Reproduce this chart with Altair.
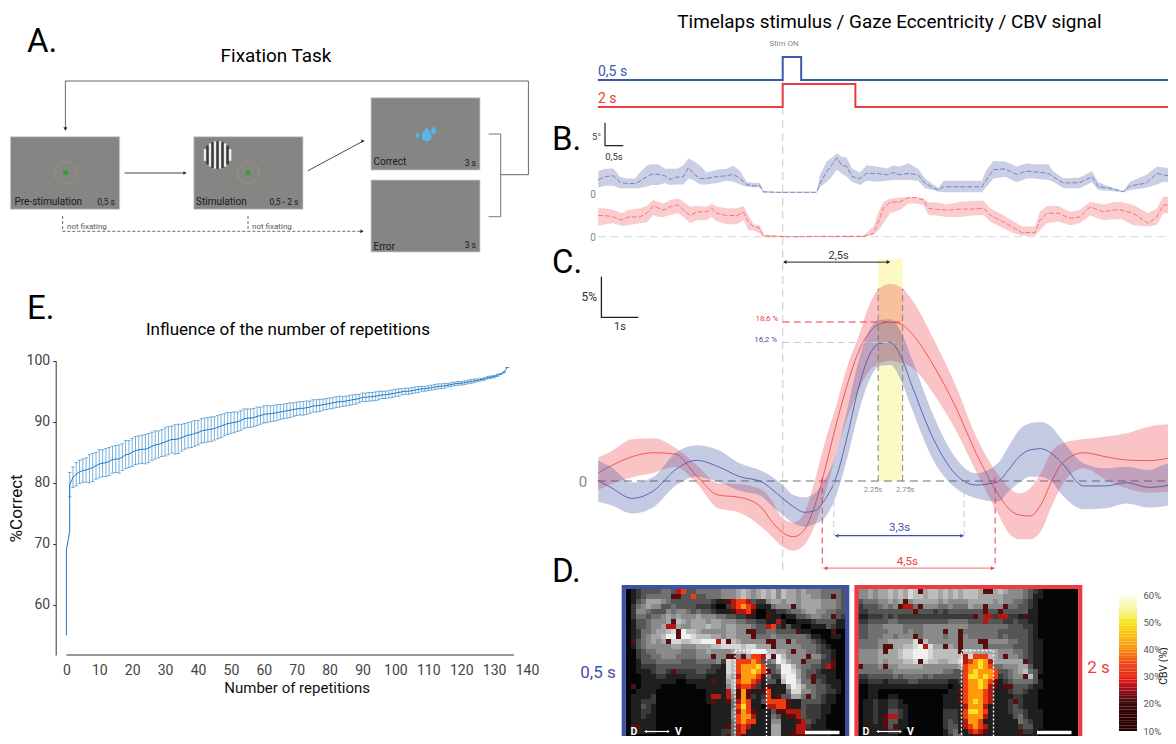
import math
import altair as alt
import pandas as pd

W, H = 1160, 728
FONT = "Roboto, Liberation Sans"
BLUE = "#3f51a3"
RED = "#ee3b42"
BLUE_STIM = "#3b5aa6"
GRAY_BOX = "#858583"

# ---------- C: CBV time courses (t in s, signal in %) ----------
cbv_t = [-4.29, -4.0, -3.5, -3.0, -2.5, -2.0, -1.5, -1.0, -0.5, -0.25, 0.0, 0.25, 0.5, 0.75, 1.0, 1.25, 1.5, 1.75,
         2.0, 2.25, 2.5, 2.75, 3.0, 3.5, 4.0, 4.5, 5.0, 5.25, 5.5, 5.75, 6.0, 6.25, 6.5, 7.0, 7.5, 8.0, 8.5, 9.0, 9.09]
cbv_red = [0.97, 1.75, 2.85, 3.31, 3.16, 0.58, -1.64, -1.91, -3.08, -4.76, -6.04, -6.51, -5.73, -2.81, 1.68, 6.74,
           11.23, 14.93, 17.27, 18.36, 18.56, 18.36, 17.27, 13.57, 8.89, 3.24, -1.44, -3.2, -3.98, -4.09, -2.81,
           -0.08, 2.07, 3.31, 2.85, 2.46, 2.38, 2.69, 2.77]
cbv_red_hi = [2.77, 3.43, 4.87, 4.99, 3.9, 1.87, -0.27, -0.39, -0.97, -2.3, -4.37, -4.87, -3.78, 0.12, 4.87, 8.89,
              13.37, 16.69, 20.39, 22.53, 23.04, 22.65, 21.25, 16.69, 11.42, 5.19, 0.82, -0.74, -1.44, -0.86, 0.9,
              3.43, 4.41, 4.91, 5.19, 5.58, 6.35, 6.63, 6.63]
cbv_red_lo = [-1.05, -0.39, 0.43, 0.97, 1.68, -0.27, -3.2, -3.7, -5.34, -6.51, -7.68, -8.15, -7.49, -5.15, -1.25,
              3.24, 7.33, 10.45, 12.79, 13.76, 14.07, 13.84, 13.29, 10.25, 6.16, 1.09, -3.78, -6.04, -6.82, -6.82,
              -5.93, -3.0, -0.47, 1.48, 0.19, -0.86, -1.36, -1.25, -1.17]
cbv_blue = [0.04, -0.74, -2.03, -1.13, 1.29, 2.42, 1.68, 0.51, -0.08, -0.97, -2.03, -3.0, -3.66, -3.47, -2.03, 0.51,
            5.19, 10.64, 14.54, 16.1, 16.22, 14.54, 11.23, 4.99, 0.9, -0.47, -0.08, 1.29, 2.85, 3.63, 3.78, 3.24,
            2.07, -0.58, -0.58, -0.19, -0.74, -0.47, 0.12]
cbv_blue_hi = [2.38, 1.68, -0.19, 0.51, 3.24, 4.17, 3.63, 2.07, 1.21, 0.51, -0.47, -1.64, -1.91, -1.44, 0.31, 3.24,
               8.3, 13.76, 17.47, 18.83, 18.91, 17.47, 14.35, 7.72, 2.85, 0.9, 2.07, 4.02, 5.96, 6.74, 6.9, 6.35,
               4.8, 2.07, 1.48, 1.68, 1.29, 2.07, 1.87]
cbv_blue_lo = [-2.42, -2.81, -3.81, -3.03, -0.58, 0.51, -0.08, -1.13, -1.75, -2.92, -3.98, -4.95, -5.34, -5.03,
               -4.17, -1.64, 2.65, 7.72, 11.62, 13.45, 13.57, 11.81, 8.5, 2.46, -0.74, -2.03, -2.42, -1.25, -0.19,
               0.51, 0.51, -0.08, -1.64, -3.31, -3.2, -2.62, -3.09, -2.81, -2.42]

# ---------- B: gaze eccentricity (t in s, degrees) ----------
gaze_blue_t = [-4.29, -4.13, -3.94, -3.78, -3.63, -3.43, -3.36, -3.16, -3.05, -2.89, -2.74, -2.62, -2.46, -2.31,
               -2.19, -2.08, -1.92, -1.77, -1.53, -1.30, -1.15, -0.99, -0.84, -0.68, -0.53, -0.45, -0.14, 0.79, 0.87,
               1.02, 1.14, 1.26, 1.37, 1.49, 1.61, 1.80, 1.95, 2.19, 2.42, 2.57, 2.73, 2.92, 3.15, 3.31, 3.50, 3.62,
               3.74, 4.05, 4.63, 4.74, 4.90, 5.17, 5.44, 5.67, 5.83, 6.18, 6.29, 6.53, 6.91, 7.19, 7.34, 7.61, 7.92,
               8.08, 8.46, 8.70, 8.85, 9.09]
gaze_blue = [2.7, 3.4, 3.6, 2.2, 1.9, 1.9, 2.2, 3.4, 3.9, 3.9, 3.6, 2.8, 3.3, 3.4, 5.4, 4.1, 3.0, 3.0, 3.4, 3.6, 3.9,
             3.0, 1.7, 1.4, 1.4, 0.1, 0, 0, 2.0, 4.5, 5.9, 7.5, 5.9, 5.6, 3.4, 3.0, 4.1, 4.1, 3.8, 4.3, 3.8, 4.1, 3.8,
             2.0, 1.0, 0.5, 1.2, 1.2, 1.2, 2.7, 4.9, 5.1, 3.9, 4.6, 4.5, 4.1, 3.4, 2.0, 2.1, 3.4, 1.2, 0.9, 0.1, 1.4,
             2.0, 4.1, 3.8, 3.4]
gaze_blue_hi = [4.6, 5.1, 5.2, 3.4, 3.0, 3.0, 3.9, 5.8, 6.1, 6.1, 5.1, 5.1, 5.1, 5.9, 7.4, 6.8, 5.8, 4.3, 4.9, 5.1,
                5.8, 4.6, 2.3, 2.0, 2.0, 0.3, 0.1, 0.1, 3.8, 6.7, 7.5, 8.5, 7.8, 7.5, 5.2, 4.3, 5.9, 5.6, 5.2, 5.8,
                5.6, 6.3, 5.1, 3.0, 1.7, 1.0, 2.5, 2.5, 2.5, 4.9, 6.8, 6.7, 5.6, 6.3, 6.1, 6.1, 4.6, 3.0, 3.2, 4.6,
                2.2, 1.2, 0.3, 2.3, 3.8, 5.6, 5.4, 5.2]
gaze_blue_lo = [1.0, 1.4, 1.4, 0.9, 0.9, 0.9, 0.9, 1.2, 1.6, 1.6, 2.0, 1.6, 1.7, 1.7, 3.0, 2.7, 1.7, 1.7, 2.0, 2.5,
                2.3, 1.7, 1.2, 1.1, 1.1, -0.1, -0.1, -0.1, 1.2, 2.2, 3.4, 4.9, 4.1, 3.4, 2.3, 1.6, 2.5, 2.3, 2.5, 2.7,
                2.7, 2.7, 2.5, 0.9, 0.5, 0.1, 0, 0, 0, 1.2, 3.0, 3.4, 2.2, 3.0, 3.0, 2.7, 2.3, 0.9, 0.9, 2.2, 0.5, 0.3,
                0, 0.5, 1.0, 1.7, 2.3, 2.0]
gaze_red_t = [-4.29, -4.13, -3.94, -3.74, -3.59, -3.32, -3.16, -3.01, -2.89, -2.77, -2.62, -2.43, -2.31, -2.15, -2.0,
              -1.77, -1.65, -1.53, -1.30, -1.07, -0.91, -0.80, -0.68, -0.53, -0.45, 0.17, 0.95, 1.88, 2.11, 2.23,
              2.34, 2.50, 2.73, 2.92, 3.12, 3.27, 3.39, 3.58, 3.81, 4.12, 4.43, 4.67, 4.82, 5.05, 5.33, 5.56, 5.87,
              5.98, 6.14, 6.41, 6.68, 6.91, 7.15, 7.46, 7.69, 7.88, 8.15, 8.50, 8.70, 8.85, 9.09]
gaze_red = [4.6, 4.6, 4.3, 3.6, 4.3, 4.3, 5.1, 6.7, 6.2, 5.8, 6.5, 6.9, 5.8, 4.6, 5.4, 5.4, 6.2, 5.1, 4.6, 4.6, 5.3,
            3.3, 2.2, 1.8, 0.2, 0, 0.1, 0.1, 0.7, 3.3, 6.2, 7.5, 7.6, 8.5, 8.5, 8.0, 6.2, 5.9, 5.8, 6.0, 6.0, 6.2,
            4.7, 3.6, 2.2, 0.9, 0.9, 3.6, 5.1, 5.1, 4.0, 4.3, 6.5, 5.4, 5.8, 5.8, 5.1, 2.9, 4.3, 6.9, 6.9]
gaze_red_hi = [6.2, 6.2, 5.8, 5.1, 5.8, 6.2, 6.7, 8.0, 7.6, 7.2, 8.0, 8.3, 7.6, 6.5, 6.7, 6.5, 7.2, 6.5, 6.2, 6.2,
               6.7, 4.7, 2.7, 2.5, 0.4, 0.1, 0.1, 0.2, 2.2, 5.4, 7.5, 8.3, 8.5, 8.6, 8.6, 8.3, 7.5, 7.5, 7.0, 7.6,
               7.8, 7.8, 6.2, 5.1, 3.6, 2.2, 2.2, 5.4, 6.7, 6.7, 5.4, 5.8, 7.6, 7.0, 7.5, 7.6, 6.9, 5.1, 6.2, 8.7, 8.7]
gaze_red_lo = [2.3, 2.7, 2.9, 2.3, 2.5, 2.9, 3.1, 4.7, 4.3, 4.3, 4.7, 5.1, 4.3, 2.9, 3.6, 3.6, 4.3, 3.3, 2.7, 2.7, 3.6,
               1.4, 1.4, 0.7, -0.1, -0.1, -0.1, -0.1, 0.4, 1.4, 2.9, 5.1, 5.8, 7.2, 7.2, 6.9, 4.7, 4.6, 4.3, 4.3, 4.6,
               4.7, 3.3, 2.2, 0.9, 0.2, 0.2, 1.4, 2.9, 3.3, 2.5, 2.9, 4.6, 3.6, 3.8, 3.8, 2.5, 2.2, 2.5, 5.1, 5.1]

# ---------- stimulus traces ----------
stim_blue_t = [-4.3, 0, 0, 0.43, 0.43, 9.05]
stim_red_t = [-4.3, 0, 0, 1.69, 1.69, 9.05]
stim_state = [0, 0, 1, 1, 0, 0]

# ---------- E: %correct against repetitions ----------
rep_mean = [79.7, 80.9, 81.4, 81.8, 82.0, 82.1, 82.3, 82.5, 82.8, 83.1,
            83.2, 83.3, 83.5, 83.8, 83.9, 83.9, 84.2, 84.6, 84.7, 85.0,
            85.3, 85.4, 85.5, 85.5, 85.7, 86.0, 86.2, 86.3, 86.5, 86.7,
            86.9, 87.1, 87.1, 87.2, 87.4, 87.6, 87.8, 87.9, 88.1, 88.2,
            88.5, 88.6, 88.7, 88.8, 88.9, 89.1, 89.3, 89.5, 89.7, 89.8,
            89.9, 90.0, 90.2, 90.5, 90.6, 90.6, 90.7, 90.9, 91.0, 91.2,
            91.3, 91.3, 91.4, 91.5, 91.6, 91.7, 91.8, 91.9, 92.0, 92.1,
            92.2, 92.2, 92.3, 92.4, 92.6, 92.6, 92.7, 92.8, 92.9, 93.0,
            93.1, 93.2, 93.3, 93.3, 93.4, 93.5, 93.6, 93.7, 93.8, 94.0,
            94.0, 94.1, 94.1, 94.2, 94.3, 94.4, 94.4, 94.5, 94.6, 94.7,
            94.8, 94.9, 95.0, 95.0, 95.1, 95.2, 95.3, 95.4, 95.4, 95.5,
            95.6, 95.7, 95.8, 95.8, 95.9, 96.0, 96.1, 96.2, 96.3, 96.3,
            96.4, 96.5, 96.6, 96.7, 96.8, 96.9, 97.0, 97.2, 97.3, 97.4,
            97.6, 97.8, 98.1, 98.9]
rep_err = [2.0, 1.7, 1.9, 1.9, 1.9, 2.0, 2.3, 2.3, 2.2, 2.3,
           2.2, 2.3, 2.3, 2.2, 2.2, 2.3, 2.2, 2.3, 2.2, 2.3,
           2.3, 2.3, 2.3, 2.4, 2.4, 2.3, 2.3, 2.2, 2.2, 2.3,
           2.3, 2.2, 2.4, 2.4, 2.2, 2.1, 2.1, 2.1, 2.1, 2.0,
           2.0, 2.0, 2.0, 2.0, 1.9, 1.9, 1.9, 1.8, 1.8, 1.7,
           1.7, 1.6, 1.6, 1.6, 1.5, 1.5, 1.5, 1.5, 1.4, 1.4,
           1.4, 1.3, 1.3, 1.3, 1.2, 1.2, 1.2, 1.2, 1.1, 1.1,
           1.1, 1.1, 1.1, 1.0, 1.0, 1.0, 1.0, 0.9, 0.9, 0.9,
           0.9, 0.9, 0.9, 0.8, 0.8, 0.8, 0.8, 0.8, 0.7, 0.7,
           0.7, 0.7, 0.7, 0.7, 0.7, 0.6, 0.6, 0.6, 0.6, 0.6,
           0.6, 0.5, 0.5, 0.5, 0.5, 0.5, 0.5, 0.4, 0.4, 0.4,
           0.4, 0.4, 0.4, 0.4, 0.4, 0.3, 0.3, 0.3, 0.3, 0.3,
           0.3, 0.3, 0.3, 0.3, 0.2, 0.2, 0.2, 0.2, 0.2, 0.2,
           0.2, 0.1, 0.1, 0.0]
rep_start_x = [0, 0, 1, 1]
rep_start_y = [55.0, 69.0, 72.0, 79.7]

# ---------- D: coarse readings of the two images (0-9 grey, a-e heat) ----------
map_blue = """
0123 3334 43bc 3344 4445 5567 6567 6757 6656 5554 4443
0123 4444 4aa3 3c33 4445 5567 6567 6757 6656 6554 4a43
0134 6665 4333 3333 3211 abcc b322 5665 6656 6665 5543
0245 6553 3433 3322 2100 2bcd cb11 1455 5a56 6665 5543
0255 4333 5455 4343 3211 1abb ca00 1122 3445 6655 4433
0244 3445 6565 5565 5544 3322 a100 a110 1133 4554 4a32
0133 4555 6a76 5666 5665 5544 3322 11b1 0011 1233 3311
0133 4556 bb65 5666 7665 6655 5433 bc21 3110 0111 3211
0124 4566 78a9 7765 5555 6655 aa33 4433 33a1 1000 0a00
0124 5667 99a9 9877 7665 6655 5a44 4544 4444 3110 0110
0a34 5656 a887 7889 99b8 a765 5555 aa55 a544 4321 0000
0134 5555 5665 5566 6778 8887 8866 6a55 5554 4432 1000
0023 4455 5554 4455 6555 5677 8999 7766 5a55 4432 2100
0023 3445 5544 4455 5a55 aa5a 6ccb 8a97 5555 a553 2100
0013 3344 4443 3344 4452 87cc cdc3 4598 655a 4442 2a00
0012 2233 3333 3333 3221 87cd ddec 3359 9754 4332 ba00
0011 1233 2a22 2233 2211 87cd dedc a349 9864 3321 1100
0001 1122 1111 2222 1111 76bd ddca 4228 9964 3a22 1100
0001 1111 1100 1111 1a11 67cd dcb1 3317 9974 4a32 1110
0a01 1110 0000 0011 1111 57bc cb21 a111 6986 4433 2110
0011 1100 0000 0000 1111 b6ad a11a c111 4885 5433 2210
0111 1200 0000 0000 1bb1 b5ad a212 c1a3 3664 a432 1100
0112 2200 0000 0000 1a11 a4bd c113 cccc a113 3332 1100
0113 2100 0000 0000 0111 14ce c110 bbcc a113 2221 1000
0112 2100 0000 0000 0111 15bd ca11 13aa bbb3 2221 1000
0112 1100 0000 0000 0111 15cd db11 1431 aab3 2221 0000
0111 1100 0000 0000 0111 14cd cc11 1551 11ab 3211 0000
0aa1 1100 0000 0000 0111 a4bc b111 1661 11bb 2111 0000
0111 1100 0000 0000 0112 24bc 1111 1661 1abb a111 1000
0000 0000 0000 0000 0112 a4ba 1111 1661 1aaa 1111 1000
0000 0000 0000 0000 0011 a3a1 1111 1551 1111 1111 1000
"""
map_red = """
5565 6676 7687 a677 6767 6777 6aa6 7655 5432 1000 0000
5565 6676 7687 7677 6767 6777 6666 6555 5431 1000 0000
3444 5565 6a56 6666 5655 5566 6665 6554 4321 0000 0000
2333 4545 abb4 a555 4454 4465 5a55 5a44 3321 0000 0000
2233 3333 333a 3332 3233 3333 3a33 a333 3311 0000 0000
1122 2323 2222 2222 2222 222a 3bb2 bb22 1a11 0000 0000
2233 3344 3333 3333 3344 4433 3b33 3223 2211 0000 0000
3344 4555 5444 4555 5555 5544 4444 4433 3221 0000 0000
3344 4455 5454 4555 5a55 a444 4444 3333 3321 0000 0000
3344 4554 555a 4555 5455 a544 4444 3433 3321 0000 0000
4444 5566 6668 a755 5555 a555 aa55 5544 3321 1000 0000
4444 5aa6 6778 9b86 6a65 a555 5a44 4443 3321 1000 0000
5555 6a66 7889 9987 7777 a776 6666 5554 4321 1000 0000
5555 6666 7889 9987 7777 7b8c cc76 5a55 4321 1000 0000
5555 6566 6778 a877 6677 8bcd edb6 6666 6a21 1000 0000
a444 5a55 6666 6555 5555 6cdd edc4 4555 6631 1000 0000
4444 4445 5555 5555 5443 3cde dddc 3345 6743 1000 0000
2233 3334 3444 4343 3333 3cee dedc 2345 5a73 0000 0000
1122 2122 2233 2222 2211 2cdd edca 1234 4443 1000 0000
0011 1111 1111 1111 1101 1cdd edba 1aa3 3321 1000 0000
0011 0000 0000 0000 0011 acdd dcb1 1123 3211 0000 0000
0011 0011 0000 0000 0111 1cdd dcb1 1112 2111 0000 0000
0112 1122 1000 0000 0111 acde dcb1 112a 2111 0000 0000
0112 1122 1100 0000 0111 1bdd db11 1123 2111 0000 0000
0112 1133 2100 0000 0222 1cee dc11 1123 3211 1000 0000
0112 1abb 2100 0000 0222 1cdd db11 1113 4211 1000 0000
0112 1a33 1100 0000 0232 1bdd c111 1111 4321 1000 0000
0111 1a3a 1100 0000 0233 1bcd cb11 1111 2331 1000 0000
0011 1122 1000 0000 0134 11bc ba11 1111 a221 0000 0000
0011 1111 0000 0000 0124 411a a111 1111 1111 0000 0000
0000 0000 0000 0000 0113 3311 1111 1111 1111 0000 0000
"""
map_keys = list("0123456789abcde")
map_colors = ["#050505", "#1f1f1f", "#3a3a3a", "#555555", "#707070", "#8a8a8a", "#a4a4a4", "#bdbdbd", "#d8d8d8",
              "#f0f0f0", "#5a0d0d", "#b01a12", "#f03c10", "#ff9a10", "#ffe020"]
cbar_stops = [10, 20, 28, 35, 42, 50, 55, 60]
cbar_colors = ["#000000", "#3a0a0a", "#e01818", "#f04a18", "#f9a81a", "#f5e61c", "#f8f6a0", "#fbfbf0"]

# ---------- scales (pixel ranges give each panel its place on the page) ----------
def S(dom, rng):
    return alt.Scale(domain=dom, range=rng, nice=False, zero=False)

CX, CY = S([8, 1176], [0, 1168]), S([8, 744], [0, 736])
TX = S([-4.3, 9.1], [589.8, 1166.0])
Y_STIM_B, Y_STIM_R = S([0, 1], [72, 49]), S([0, 1], [99, 76])
Y_GAZE_B, Y_GAZE_R = S([-1, 10], [188.9, 138.3]), S([-1, 10], [233.3, 182.7])
Y_CBV = S([-11, 26], [567.05, 250.7])
EX, EY = S([0, 140], [58.4, 519.0]), S([51.8, 100], [647, 352.7])
HY = S([0, 31], [581, 736])
HX_B, HX_R = S([0, 44], [618, 838]), S([0, 44], [850, 1070])
BY = S([10, 60], [723, 587.7])
BX = S([0, 1], [1111, 1129])

layers = []

def xe(f, sc):
    return alt.X(f"{f}:Q", scale=sc, axis=None)

def ye(f, sc):
    return alt.Y(f"{f}:Q", scale=sc, axis=None)

def text(x, y, s, size=12, color="#000000", align="left", angle=0, font=FONT, xs=CX, ys=CY, weight="normal"):
    d = pd.DataFrame({"x": [x], "y": [y], "s": [s]})
    kw = dict(angle=angle) if angle else {}
    layers.append(alt.Chart(d).mark_text(fontSize=size, color=color, align=align, baseline="alphabetic", font=font,
                                         fontWeight=weight, **kw)
                  .encode(x=xe("x", xs), y=ye("y", ys), text="s:N"))

def line(xs_, ys_, color="#333333", width=1.0, dash=None, xs=CX, ys=CY, opacity=1.0, interp="linear"):
    d = pd.DataFrame({"x": xs_, "y": ys_, "o": range(len(xs_))})
    kw = dict(strokeDash=dash) if dash else {}
    layers.append(alt.Chart(d).mark_line(color=color, strokeWidth=width, opacity=opacity, interpolate=interp, **kw)
                  .encode(x=xe("x", xs), y=ye("y", ys), order="o:Q"))

def rect(x0, x1, y0, y1, fill=None, stroke=None, sw=1.0, dash=None, xs=CX, ys=CY, opacity=1.0):
    d = pd.DataFrame({"x": [x0], "x2": [x1], "y": [y0], "y2": [y1]})
    kw = {}
    if fill: kw["fill"] = fill
    else: kw["fillOpacity"] = 0
    if stroke: kw.update(stroke=stroke, strokeWidth=sw)
    if dash: kw["strokeDash"] = dash
    layers.append(alt.Chart(d).mark_rect(opacity=opacity, **kw)
                  .encode(x=xe("x", xs), x2="x2:Q", y=ye("y", ys), y2="y2:Q"))

def head(x, y, shape, color, size=22, xs=CX, ys=CY):
    d = pd.DataFrame({"x": [x], "y": [y]})
    layers.append(alt.Chart(d).mark_point(shape=shape, filled=True, color=color, size=size, opacity=1)
                  .encode(x=xe("x", xs), y=ye("y", ys)))

def band(t, m, hi, lo, color, ys, lw=0.8, op=0.3, interp="monotone", dash=None):
    d = pd.DataFrame({"t": t, "m": m, "hi": hi, "lo": lo})
    layers.append(alt.Chart(d).mark_area(color=color, opacity=op, interpolate=interp)
                  .encode(x=xe("t", TX), y=ye("hi", ys), y2="lo:Q"))
    kw = dict(strokeDash=dash) if dash else {}
    layers.append(alt.Chart(d).mark_line(color=color, strokeWidth=lw, interpolate=interp, **kw)
                  .encode(x=xe("t", TX), y=ye("m", ys)))

# ---------- A: task diagram ----------
text(27, 52, "A.", 33)
text(276, 62, "Fixation Task", 18.9, align="center")
for x0, x1, y0, y1 in [(10.4, 119.7, 136.7, 209.3), (193.8, 303, 136.7, 209.3), (371, 480, 97.7, 170), (371, 480, 180, 252)]:
    rect(x0, x1, y0, y1, fill=GRAY_BOX, stroke="#cfcfcf", sw=0.8)
line([65.4, 65.4, 528.4, 528.4, 500.7], [128, 81, 81, 174.7, 174.7], "#666666", 1.0)
head(65.4, 129, "triangle-down", "#222222", 16)
line([488.6, 500.7, 500.7, 488.6], [134, 134, 216.7, 216.7], "#777777", 1.0)
line([124.6, 184], [173, 173], "#444444", 1.1)
head(185, 173, "triangle-right", "#222222", 14)
line([308, 362], [170.7, 141.7], "#333333", 0.9)
head(363, 141, "triangle-right", "#222222", 14)
line([62.6, 62.6, 361], [216, 231.3, 231.3], "#444444", 0.8, [3, 2])
line([248, 248], [216, 231], "#444444", 0.8, [3, 2])
head(362, 231.3, "triangle-right", "#222222", 14)
text(67, 229, "not fixating", 8, "#555555")
text(252, 229, "not fixating", 8, "#555555")
for cx in (65.4, 248):
    d = pd.DataFrame({"x": [cx], "y": [172.7]})
    layers.append(alt.Chart(d).mark_point(shape="circle", size=460, color="#e8a92a", strokeWidth=0.9, strokeDash=[2, 2])
                  .encode(x=xe("x", CX), y=ye("y", CY)))
    rect(cx - 2.2, cx + 2.2, 170.5, 174.9, fill="#2ca02c")
for i in range(-5, 6):
    dx = i * 2.5
    half = math.sqrt(max(13.8 ** 2 - dx ** 2, 4))
    rect(217.6 + dx - 1.25, 217.6 + dx + 1.25, 155 - half, 155 + half, fill="#3a3a3a" if i % 2 == 0 else "#eeeeee")
DROP = "M0,-1 C0.55,-0.25 0.72,0.05 0.72,0.32 A0.72,0.68 0 1 1 -0.72,0.32 C-0.72,0.05 -0.55,-0.25 0,-1 Z"
for x, y, sz in [(426.6, 134.5, 190), (417.5, 135, 30), (433.5, 130, 60)]:
    d = pd.DataFrame({"x": [x], "y": [y]})
    layers.append(alt.Chart(d).mark_point(shape=DROP, filled=True, color="#5ab6e8", size=sz, opacity=1)
                  .encode(x=xe("x", CX), y=ye("y", CY)))
for x, s in [(14.5, "Pre-stimulation"), (196, "Stimulation")]:
    text(x, 205, s, 10, "#1a1a1a")
text(115, 205, "0,5 s", 8.5, "#1a1a1a", "right")
text(298.5, 205, "0,5 - 2 s", 8.5, "#1a1a1a", "right")
text(373.5, 165, "Correct", 10, "#1a1a1a")
text(476, 166, "3 s", 8.5, "#1a1a1a", "right")
text(373.5, 250, "Error", 10, "#1a1a1a")
text(476, 248, "3 s", 8.5, "#1a1a1a", "right")

# ---------- E: performance against repetitions ----------
text(27, 319, "E.", 33)
text(288, 335, "Influence of the number of repetitions", 17, align="center")
e_df = pd.DataFrame({"n": list(range(1, 135)), "m": rep_mean, "e": rep_err})
e_df["hi"] = e_df.m + e_df.e
e_df["lo"] = e_df.m - e_df.e
d = pd.DataFrame({"n": [0], "n2": [136], "y": [51.8]})
layers.append(alt.Chart(d).mark_rule(color="#333333", strokeWidth=1)
              .encode(x=alt.X("n:Q", scale=EX, axis=None), x2="n2:Q", y=ye("y", EY)))
layers.append(alt.Chart(e_df).mark_rule(color="#2a83c6", strokeWidth=0.9, opacity=0.7)
              .encode(x=alt.X("n:Q", scale=EX, axis=alt.Axis(
                          values=list(range(0, 150, 10)), offset=-81, domain=False, ticks=False, labelPadding=8,
                          labelFontSize=14, labelFont=FONT, labelColor="#444444", grid=False, labelOverlap=False,
                          labelFlush=False, title="Number of repetitions", titleFont=FONT, titleFontSize=15,
                          titleFontWeight="normal", titleColor="#111111", titlePadding=3)),
                      y=alt.Y("hi:Q", scale=EY, axis=alt.Axis(
                          values=[60, 70, 80, 90, 100], offset=-47.7, domainColor="#333333", tickColor="#333333",
                          tickSize=3, labelPadding=3, labelFontSize=14, labelFont=FONT, labelColor="#444444",
                          grid=False, title="%Correct", titleFont=FONT, titleFontSize=17, titleFontWeight="normal",
                          titleColor="#111111", titleX=-30)),
                      y2="lo:Q"))
for f in ("hi", "lo"):
    layers.append(alt.Chart(e_df).mark_tick(orient="horizontal", size=3.5, thickness=0.8, color="#2a83c6", opacity=0.8)
                  .encode(x=alt.X("n:Q", scale=EX, axis=None), y=ye(f, EY)))
line(rep_start_x + e_df.n.tolist(), rep_start_y + rep_mean, "#1c78c2", 1.0, xs=EX, ys=EY)

# ---------- stimulus + B + C: time courses ----------
text(889.5, 28, "Timelaps stimulus / Gaze Eccentricity / CBV signal", 18.9, align="center")
text(784, 46, "Stim ON", 8, "#888888", "center")
line([0, 0], [-11.0, 10.0], "#d9d9d9", 1.4, [8, 5], xs=TX, ys=S([-11, 10], [562, 54]))
line(stim_blue_t, stim_state, BLUE_STIM, 2, xs=TX, ys=Y_STIM_B)
line(stim_red_t, stim_state, RED, 2, xs=TX, ys=Y_STIM_R)
text(598, 76, "0,5 s", 14, BLUE_STIM)
text(598, 103, "2 s", 14, RED)

text(552, 150, "B.", 33)
line([605, 605, 623.3], [122.7, 145.7, 145.7], "#222222", 1.2)
text(601, 140, "5°", 9.5, "#444444", "right")
text(614, 160, "0,5s", 9.5, "#333333", "center")
line([-4.3, 9.05], [0, 0], "#dddddd", 1.2, [8, 5], xs=TX, ys=Y_GAZE_R)
text(593, 198, "0", 10, "#888888", "center")
text(593, 241, "0", 10, "#888888", "center")
band(gaze_blue_t, gaze_blue, gaze_blue_hi, gaze_blue_lo, BLUE, Y_GAZE_B, 0.6, 0.28, "linear", [5, 2])
band(gaze_red_t, gaze_red, gaze_red_hi, gaze_red_lo, RED, Y_GAZE_R, 0.6, 0.26, "linear", [5, 2])

text(552, 273, "C.", 33)
rect(2.22, 2.79, 0, 26, fill="#fdf9c4", xs=TX, ys=S([0, 26], [473, 251.3]))
line([601.4, 601.4, 638.4], [276.7, 317.3, 317.3], "#222222", 1.3)
text(597, 301, "5%", 12, "#333333", "right")
text(620, 330, "1s", 11, "#333333", "center")
line([-4.3, -4.1, 9.09], [0, 0, 0], "#6e6e6e", 1.0, [8, 5], xs=TX, ys=Y_CBV)
text(583, 487, "0", 15, "#888888", "center")
band(cbv_t, cbv_red, cbv_red_hi, cbv_red_lo, RED, Y_CBV)
band(cbv_t, cbv_blue, cbv_blue_hi, cbv_blue_lo, BLUE, Y_CBV)
for t in (2.22, 2.79):
    line([t, t], [0, 22.5], "#777777", 0.9, [6, 4], xs=TX, ys=Y_CBV)
line([0, 2.79], [18.6, 18.6], RED, 1.1, [7, 4], xs=TX, ys=Y_CBV)
line([0, 2.6], [16.2, 16.2], "#c9c9e2", 1.0, [7, 4], xs=TX, ys=Y_CBV)
text(-0.1, 18.7, "18,6 %", 8, RED, "right", xs=TX, ys=Y_CBV)
text(-0.13, 16.2, "16,2 %", 8, BLUE, "right", xs=TX, ys=Y_CBV)
text(2.1, -1.3, "2.25s", 7.5, "#8a8a8a", "center", xs=TX, ys=Y_CBV)
text(2.85, -1.3, "2.75s", 7.5, "#8a8a8a", "center", xs=TX, ys=Y_CBV)
line([0.03, 2.45], [25.6, 25.6], "#222222", 1.0, xs=TX, ys=Y_CBV)
head(0.05, 25.6, "triangle-left", "#222222", 16, TX, Y_CBV)
head(2.46, 25.6, "triangle-right", "#222222", 16, TX, Y_CBV)
text(1.3, 26.0, "2,5s", 11, "#333333", "center", xs=TX, ys=Y_CBV)
for t in (1.19, 4.22):
    line([t, t], [0, -6.4], "#c5c8e4", 1.0, [6, 4], xs=TX, ys=Y_CBV)
line([1.22, 4.2], [-6.4, -6.4], BLUE, 1.3, xs=TX, ys=Y_CBV)
head(1.26, -6.4, "triangle-left", BLUE, 16, TX, Y_CBV)
head(4.17, -6.4, "triangle-right", BLUE, 16, TX, Y_CBV)
text(2.72, -5.8, "3,3s", 11.5, BLUE, "center", xs=TX, ys=Y_CBV)
for t in (0.92, 4.94):
    line([t, t], [0.4, -10.2], RED, 1.0, [6, 4], xs=TX, ys=Y_CBV)
line([0.95, 4.92], [-10.2, -10.2], "#f28a8e", 1.3, xs=TX, ys=Y_CBV)
head(1.0, -10.2, "triangle-left", RED, 16, TX, Y_CBV)
head(4.88, -10.2, "triangle-right", RED, 16, TX, Y_CBV)
text(2.9, -9.8, "4,5s", 11.5, RED, "center", xs=TX, ys=Y_CBV)

# ---------- D: images ----------
text(552, 582, "D.", 33)
def heat(txt, hx):
    rows = [r.replace(" ", "") for r in txt.strip().splitlines()]
    recs = [dict(c=c, c2=c + 1.04, r=i, r2=i + 1.04, v=ch) for i, row in enumerate(rows) for c, ch in enumerate(row)]
    layers.append(alt.Chart(pd.DataFrame(recs)).mark_rect()
                  .encode(x=xe("c", hx), x2="c2:Q", y=ye("r", HY), y2="r2:Q",
                          color=alt.Color("v:N", scale=alt.Scale(domain=map_keys, range=map_colors), legend=None)))

for mp, hx, dot in [(map_blue, HX_B, (21.8, 28.1)), (map_red, HX_R, (20.7, 27.1))]:
    heat(mp, hx)
    rect(dot[0], dot[1], 12.3, 30.7, stroke="#ffffff", sw=1.4, dash=[2, 2], xs=hx, ys=HY)
    line([35.8, 42.7], [28.7, 28.7], "#ffffff", 3.5, xs=hx, ys=HY)
    text(1.6, 29.1, "D", 10.5, "#ffffff", "center", xs=hx, ys=HY, weight="bold")
    text(10.5, 29.1, "V", 10.5, "#ffffff", "center", xs=hx, ys=HY, weight="bold")
    line([4.0, 8.4], [28.5, 28.5], "#ffffff", 1.2, xs=hx, ys=HY)
    head(3.9, 28.5, "triangle-left", "#ffffff", 10, hx, HY)
    head(8.5, 28.5, "triangle-right", "#ffffff", 10, hx, HY)
rect(623.8, 847.2, 587, 770, stroke=BLUE, sw=4.2)
rect(856.5, 1080.2, 587, 770, stroke=RED, sw=4.2)
text(598, 678, "0,5 s", 17, BLUE, "center")
text(1098.5, 673, "2 s", 17, RED, "center")

cbar = pd.DataFrame({"p": list(range(10, 60))})
cbar["p2"] = cbar.p + 1
cbar["a"] = 0
cbar["b"] = 1
layers.append(alt.Chart(cbar).mark_rect()
              .encode(x=xe("a", BX), x2="b:Q",
                      y=alt.Y("p:Q", scale=BY, axis=alt.Axis(
                          orient="right", values=[10, 20, 30, 40, 50, 60], offset=-31, domain=False, ticks=False,
                          labelPadding=6, labelFontSize=9.5, labelFont=FONT, labelColor="#555555", grid=False,
                          labelExpr="datum.value + '%'", title=None)),
                      y2="p2:Q",
                      color=alt.Color("p:Q", scale=alt.Scale(domain=cbar_stops, range=cbar_colors), legend=None)))
text(1167, 666, "CBV (%)", 10.5, "#222222", "center", angle=270)

chart = (alt.layer(*layers)
         .resolve_scale(x="independent", y="independent", color="independent")
         .properties(width=W, height=H, padding=0, autosize=alt.AutoSizeParams(type="none"), background="#ffffff")
         .configure_view(stroke=None))
chart.save("out.html", embed_options={"renderer": "svg", "actions": False})
